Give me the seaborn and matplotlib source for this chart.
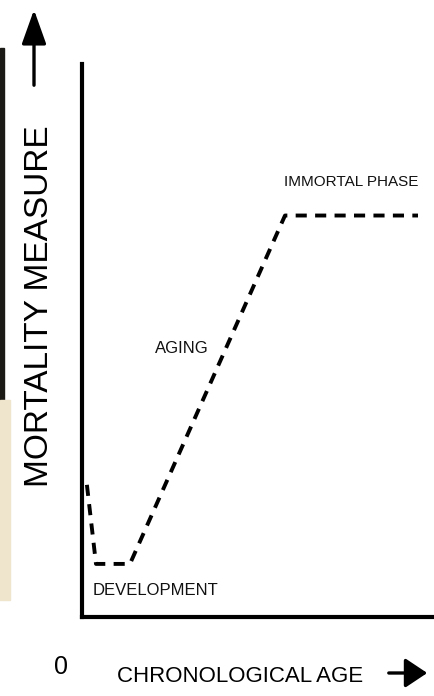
import numpy as np
import pandas as pd
import matplotlib
matplotlib.use('Agg')
import matplotlib.pyplot as plt
from matplotlib.patches import Rectangle, FancyArrowPatch
import seaborn as sns

# Schematic mortality curve (age and mortality in arbitrary 0-100 units)
age = [1.4, 4.0, 13.7, 58.0, 96.0]
mortality = [23.9, 9.6, 9.6, 72.6, 72.6]

# Phase labels: text, x, y
phase_labels = ['DEVELOPMENT', 'AGING', 'IMMORTAL PHASE']
label_x = [3.0, 20.8, 57.8]
label_y = [4.8, 48.6, 78.6]
label_size = [12, 12, 11]

x_label = 'CHRONOLOGICAL AGE'
y_label = 'MORTALITY MEASURE'
origin_label = '0'

sns.set_theme(style='white')
plt.rcParams['lines.scale_dashes'] = False
font = ['Liberation Sans', 'DejaVu Sans']

df = pd.DataFrame({'age': age, 'mortality': mortality})

fig = plt.figure(figsize=(4.35, 6.96), dpi=100)
ax = fig.add_axes([82 / 435, 1 - 617 / 696, 350 / 435, 553 / 696])

sns.lineplot(data=df, x='age', y='mortality', sort=False, color='black',
             linewidth=2.8, linestyle=(0, (8, 6)), ax=ax)

ax.set_xlim(0, 100)
ax.set_ylim(0, 100)
ax.set_xticks([])
ax.set_yticks([])
ax.set_xlabel('')
ax.set_ylabel('')
sns.despine(ax=ax)
for side in ['left', 'bottom']:
    ax.spines[side].set_color('black')
    ax.spines[side].set_linewidth(3)

for text, x, y, s in zip(phase_labels, label_x, label_y, label_size):
    ax.text(x, y, text, ha='left', va='center', fontsize=s,
            family=font, color='#111111')

# axis titles with arrows, placed in figure pixel fractions
fig.text(240 / 435, 1 - 676 / 696, x_label, ha='center', va='center',
         fontsize=16, family=font, color='black')
fig.text(61 / 435, 1 - 667 / 696, origin_label, ha='center', va='center',
         fontsize=18, family=font, color='black')
fig.text(40 / 435, 1 - 306 / 696, y_label, ha='center', va='center',
         rotation=90, fontsize=24, family=font, color='black')

fig.patches.append(FancyArrowPatch(
    (386 / 435, 1 - 673 / 696), (430 / 435, 1 - 673 / 696),
    transform=fig.transFigure, arrowstyle='-|>,head_length=9,head_width=6',
    mutation_scale=1.5, color='black', linewidth=2.4))
fig.patches.append(FancyArrowPatch(
    (34 / 435, 1 - 88 / 696), (34 / 435, 1 - 7 / 696),
    transform=fig.transFigure, arrowstyle='-|>,head_length=14,head_width=5',
    mutation_scale=1.5, color='black', linewidth=2.4))

# dark / beige strip along the left edge of the scanned image
fig.patches.append(Rectangle((0, 1 - 400 / 696), 4 / 435, 352 / 696,
                             transform=fig.transFigure, color='#1c1a16', zorder=0))
fig.patches.append(Rectangle((0, 1 - 600 / 696), 10 / 435, 200 / 696,
                             transform=fig.transFigure, color='#efe4cc', zorder=0))

fig.savefig('out.png', dpi=100)
